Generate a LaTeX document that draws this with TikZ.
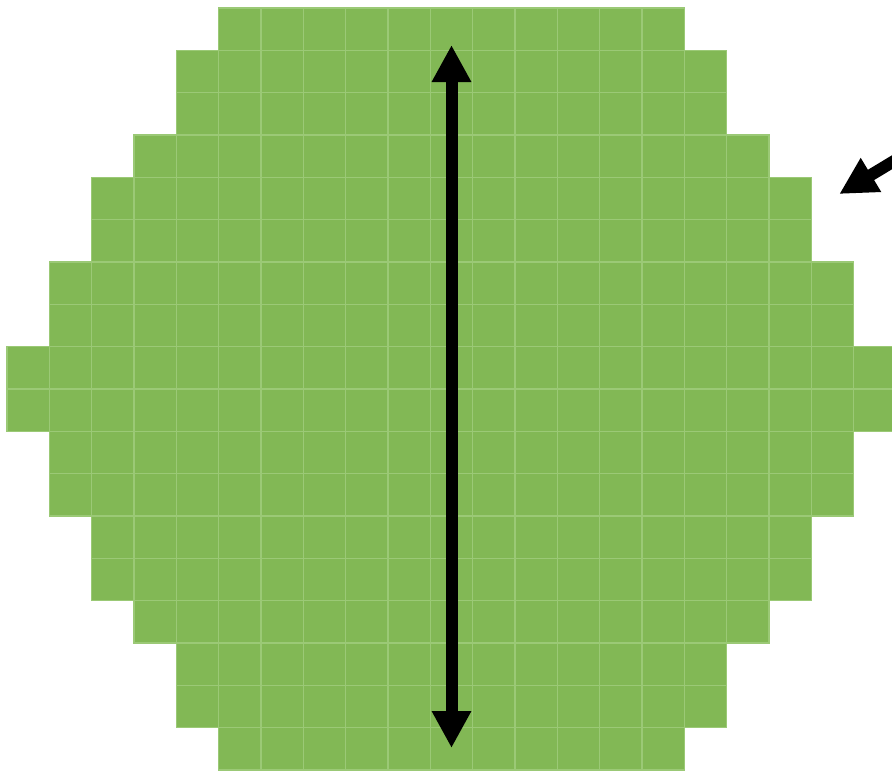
\documentclass[tikz,border=0pt]{standalone}
\usetikzlibrary{arrows.meta}
\definecolor{leaf}{RGB}{130,184,85}
\definecolor{leafline}{RGB}{155,201,118}
\tikzset{
  cellfill/.style={fill=leaf},
  cellline/.style={draw=leafline,line width=1.3pt},
  bigarrow/.style={line width=12pt,{Triangle[width=37pt,length=37pt]}-{Triangle[width=37pt,length=37pt]}},
  onearrow/.style={line width=12pt,-{Triangle[width=37pt,length=37pt]}}
}
\begin{document}
\begin{tikzpicture}[x=1pt,y=-1pt]
\useasboundingbox (0,0) rectangle (892,772);
\clip (0,0) rectangle (892,772);
\def\s{42.33}
\def\rows{0/5/15,1/4/16,2/4/16,3/3/17,4/2/18,5/2/18,6/1/19,7/1/19,8/0/20,9/0/20,10/1/19,11/1/19,12/2/18,13/2/18,14/3/17,15/4/16,16/4/16,17/5/15}
\foreach \r/\a/\b in \rows {
  \fill[cellfill] ({7+\a*\s},{8+\r*\s}) rectangle ({7+(\b+1)*\s},{8+(\r+1)*\s});
}
\foreach \r/\a/\b in \rows {
  \foreach \c in {\a,...,\b} {
    \draw[cellline] ({7+\c*\s},{8+\r*\s}) rectangle ({7+(\c+1)*\s},{8+(\r+1)*\s});
  }
}
\coordinate (top) at (451.5,45);
\coordinate (bot) at (451.5,748);
\draw[bigarrow] (top) -- (bot);
\coordinate (ptail) at (929,140);
\coordinate (ptip) at (839.3,194);
\draw[onearrow] (ptail) -- (ptip);
\end{tikzpicture}
\end{document}
